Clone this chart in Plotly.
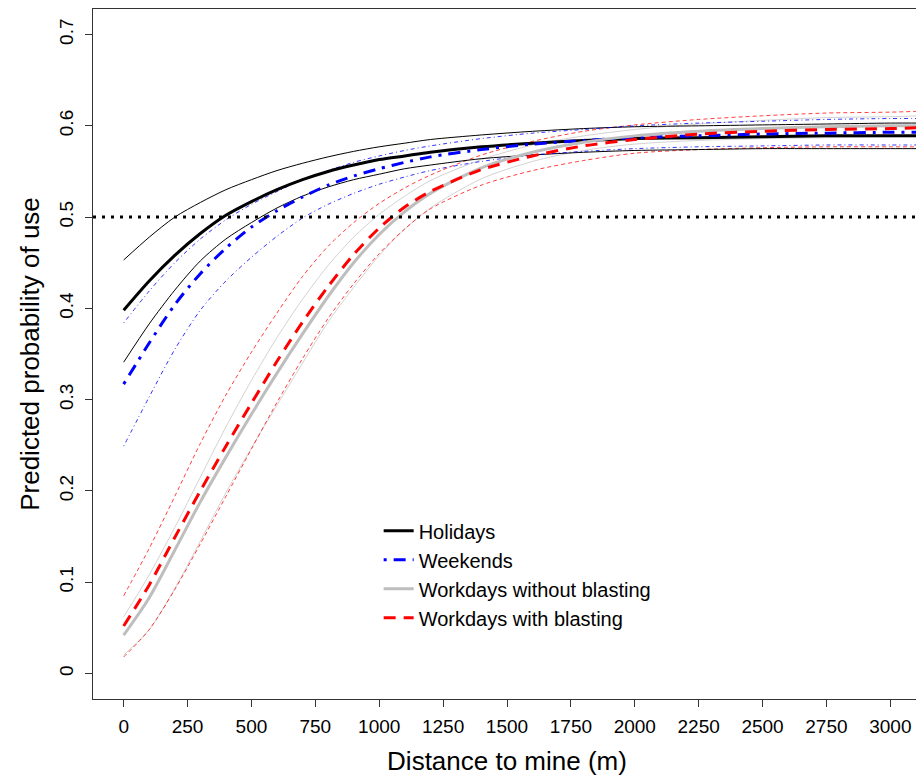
import plotly.graph_objects as go

# ---- data ----
distance = [0, 100, 200, 300, 400, 500, 600, 700, 800, 900, 1000, 1100, 1200,
            1400, 1600, 1800, 2000, 2250, 2500, 2750, 3000, 3120]

holidays_mean = [0.398, 0.430, 0.458, 0.482, 0.502, 0.517, 0.530, 0.541, 0.550, 0.557, 0.563,
                 0.567, 0.571, 0.577, 0.581, 0.584, 0.586, 0.587, 0.588, 0.589, 0.589, 0.589]
holidays_upper = [0.453, 0.478, 0.500, 0.516, 0.530, 0.541, 0.551, 0.559, 0.566, 0.572, 0.577,
                  0.581, 0.585, 0.590, 0.594, 0.597, 0.599, 0.600, 0.601, 0.602, 0.603, 0.603]
holidays_lower = [0.341, 0.383, 0.420, 0.452, 0.476, 0.494, 0.510, 0.523, 0.533, 0.541, 0.547,
                  0.553, 0.557, 0.564, 0.568, 0.571, 0.573, 0.574, 0.575, 0.575, 0.575, 0.575]

weekends_mean = [0.317, 0.362, 0.404, 0.438, 0.466, 0.489, 0.507, 0.522, 0.535, 0.545, 0.553,
                 0.560, 0.566, 0.574, 0.580, 0.584, 0.587, 0.589, 0.591, 0.592, 0.593, 0.593]
weekends_upper = [0.384, 0.419, 0.450, 0.476, 0.497, 0.514, 0.528, 0.541, 0.551, 0.560, 0.567,
                  0.573, 0.578, 0.586, 0.592, 0.596, 0.600, 0.603, 0.605, 0.607, 0.608, 0.608]
weekends_lower = [0.249, 0.303, 0.355, 0.398, 0.430, 0.456, 0.479, 0.499, 0.514, 0.526, 0.536,
                  0.544, 0.551, 0.561, 0.568, 0.572, 0.575, 0.577, 0.578, 0.579, 0.579, 0.579]

noblast_mean = [0.042, 0.083, 0.135, 0.188, 0.237, 0.284, 0.329, 0.372, 0.413, 0.450, 0.481,
                0.506, 0.526, 0.554, 0.571, 0.582, 0.589, 0.594, 0.597, 0.599, 0.600, 0.600]
noblast_upper = [0.062, 0.108, 0.160, 0.215, 0.270, 0.321, 0.368, 0.410, 0.447, 0.478, 0.503,
                 0.523, 0.540, 0.563, 0.579, 0.589, 0.596, 0.602, 0.606, 0.609, 0.610, 0.611]
noblast_lower = [0.020, 0.048, 0.093, 0.145, 0.198, 0.247, 0.294, 0.340, 0.385, 0.423, 0.458,
                 0.487, 0.510, 0.542, 0.561, 0.573, 0.580, 0.584, 0.586, 0.587, 0.588, 0.588]

blast_mean = [0.052, 0.097, 0.149, 0.200, 0.249, 0.296, 0.342, 0.385, 0.424, 0.459, 0.488,
              0.511, 0.528, 0.552, 0.567, 0.578, 0.585, 0.591, 0.594, 0.596, 0.597, 0.598]
blast_upper = [0.085, 0.137, 0.194, 0.252, 0.305, 0.352, 0.395, 0.435, 0.468, 0.494, 0.515,
               0.532, 0.546, 0.568, 0.583, 0.594, 0.601, 0.607, 0.611, 0.614, 0.615, 0.616]
blast_lower = [0.018, 0.048, 0.092, 0.142, 0.194, 0.246, 0.297, 0.345, 0.389, 0.427, 0.460,
               0.487, 0.509, 0.535, 0.551, 0.562, 0.570, 0.574, 0.576, 0.577, 0.577, 0.577]

threshold = 0.5
x_ticks = [0, 250, 500, 750, 1000, 1250, 1500, 1750, 2000, 2250, 2500, 2750, 3000]
y_ticks = [0, 0.1, 0.2, 0.3, 0.4, 0.5, 0.6, 0.7]
y_tick_labels = ["0", "0.1", "0.2", "0.3", "0.4", "0.5", "0.6", "0.7"]

FONT = "Liberation Sans, Arial, sans-serif"

fig = go.Figure()

def ci(y, color, dash, width=1):
    fig.add_trace(go.Scatter(x=distance, y=y, mode="lines", showlegend=False,
                             hoverinfo="skip",
                             line=dict(color=color, width=width, dash=dash, shape="spline",
                                       smoothing=0.8)))

# confidence bounds (thin)
ci(noblast_upper, "#D3D3D3", "solid")
ci(noblast_lower, "#D3D3D3", "solid")
ci(blast_upper, "rgba(255,0,0,0.75)", "4px,3px")
ci(blast_lower, "rgba(255,0,0,0.75)", "4px,3px")
ci(holidays_upper, "#000000", "solid")
ci(holidays_lower, "#000000", "solid")
ci(weekends_upper, "rgba(0,0,255,0.8)", "1px,3px,4px,3px")
ci(weekends_lower, "rgba(0,0,255,0.8)", "1px,3px,4px,3px")

# means (thick)
fig.add_trace(go.Scatter(x=distance, y=holidays_mean, mode="lines", name="Holidays",
                         line=dict(color="#000000", width=3, shape="spline", smoothing=0.8)))
fig.add_trace(go.Scatter(x=distance, y=weekends_mean, mode="lines", name="Weekends",
                         line=dict(color="#0000FF", width=3, dash="3px,7px,12px,7px",
                                   shape="spline", smoothing=0.8)))
fig.add_trace(go.Scatter(x=distance, y=noblast_mean, mode="lines", name="Workdays without blasting",
                         line=dict(color="#BEBEBE", width=3, shape="spline", smoothing=0.8)))
fig.add_trace(go.Scatter(x=distance, y=blast_mean, mode="lines", name="Workdays with blasting",
                         line=dict(color="#FF0000", width=3, dash="12px,8px",
                                   shape="spline", smoothing=0.8)))

fig.add_shape(type="line", xref="paper", x0=0, x1=1, yref="y", y0=threshold, y1=threshold,
              line=dict(color="black", width=3, dash="3px,6px"))

# the page body has an 8px margin, so the figure is sized/placed to compensate
fig.update_layout(
    width=916, height=768,
    margin=dict(l=85, r=3, t=1, b=77),
    paper_bgcolor="white", plot_bgcolor="white",
    font=dict(family=FONT, color="black"),
    showlegend=True,
    legend=dict(x=0.345, y=0.272, xanchor="left", yanchor="top",
                bgcolor="rgba(0,0,0,0)", borderwidth=0,
                font=dict(size=20, family=FONT)),
    xaxis=dict(range=[-120, 3120], tickvals=x_ticks, ticks="outside", ticklen=7,
               tickcolor="#333", showline=True, linecolor="#333", linewidth=1, mirror=True,
               showgrid=False, zeroline=False, tickfont=dict(size=19),
               ticklabelstandoff=3, automargin=False,
               title=dict(text="Distance to mine (m)", font=dict(size=26), standoff=19)),
    yaxis=dict(range=[-0.028, 0.728], tickvals=y_ticks, ticktext=y_tick_labels,
               ticks="outside", ticklen=7, tickangle=-90,
               tickcolor="#333", showline=True, linecolor="#333", linewidth=1, mirror=True,
               showgrid=False, zeroline=False, tickfont=dict(size=19),
               ticklabelstandoff=4, automargin=False,
               title=dict(text="Predicted probability of use", font=dict(size=26), standoff=9)),
)

fig.write_html("out.html")
